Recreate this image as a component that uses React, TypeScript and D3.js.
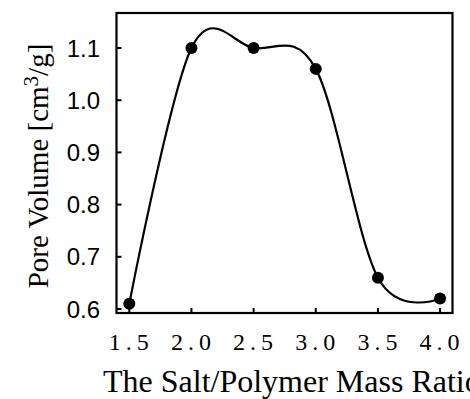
import React from "react";
import * as d3 from "d3";

const ratios = [1.5, 2.0, 2.5, 3.0, 3.5, 4.0];
const poreVolumes = [0.61, 1.1, 1.1, 1.06, 0.66, 0.62];
const xTicks = [1.5, 2.0, 2.5, 3.0, 3.5, 4.0];
const yTicks = [0.6, 0.7, 0.8, 0.9, 1.0, 1.1];

export default function App() {
  const W = 470, H = 399;
  const left = 116.5, right = 452.5, top = 13, bottom = 313;
  const x = d3.scaleLinear().domain([1.397, 4.1]).range([left, right]);
  const y = d3.scaleLinear().domain([0.6, 1.1]).range([309, 48]);
  const pts = ratios.map((r, i) => [r, poreVolumes[i]] as [number, number]);
  const line = d3
    .line<[number, number]>()
    .x((d) => x(d[0]))
    .y((d) => y(d[1]))
    .curve(d3.curveCardinal.tension(0));
  return (
    <svg width={W} height={H} style={{ position: "absolute", left: 0, top: 0, background: "#fff" }}>
      <rect x={left} y={top} width={right - left} height={bottom - top} fill="none" stroke="#000" strokeWidth={2.2} />
      {yTicks.map((t) => (
        <g key={"y" + t}>
          <line x1={left} x2={left + 5} y1={y(t)} y2={y(t)} stroke="#000" strokeWidth={2} />
          <text x={100} y={y(t)} dy="0.36em" textAnchor="end" fontFamily="Liberation Sans, Arial" fontSize={24}>
            {t.toFixed(1)}
          </text>
        </g>
      ))}
      {xTicks.map((t) => (
        <g key={"x" + t}>
          <line x1={x(t)} x2={x(t)} y1={bottom} y2={bottom - 5} stroke="#000" strokeWidth={2} />
          <text x={x(t) + 2} y={350} textAnchor="middle" fontFamily="Liberation Serif, serif" fontSize={24} letterSpacing={5}>
            {t.toFixed(1)}
          </text>
        </g>
      ))}
      <path d={line(pts) ?? ""} fill="none" stroke="#000" strokeWidth={2.2} />
      {pts.map((p, i) => (
        <circle key={i} cx={x(p[0])} cy={y(p[1])} r={6} fill="#000" />
      ))}
      <text x={103} y={392} fontFamily="Liberation Serif, serif" fontSize={32}>
        The Salt/Polymer Mass Ratio
      </text>
      <text
        transform={`translate(48,${166}) rotate(-90)`}
        textAnchor="middle"
        fontFamily="Liberation Serif, serif"
        fontSize={29}
      >
        Pore Volume [cm<tspan dy={-10} fontSize={21}>3</tspan>
        <tspan dy={10}>/g]</tspan>
      </text>
    </svg>
  );
}
